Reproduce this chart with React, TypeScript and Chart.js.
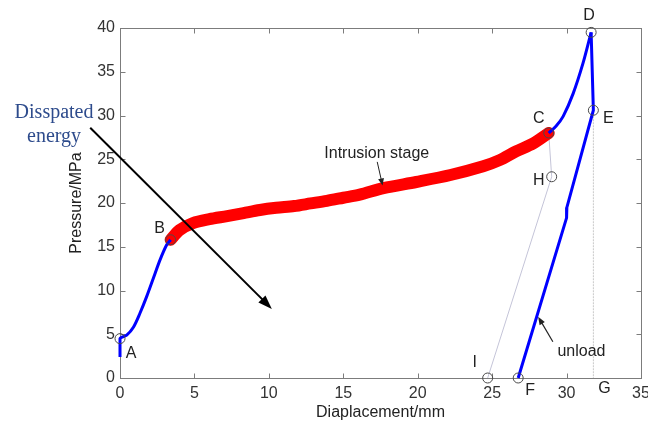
import React, { useEffect, useRef } from "react";
import { Chart, registerables } from "chart.js";

Chart.register(...registerables);

// ---- data ----
const xTicks = [0, 5, 10, 15, 20, 25, 30, 35];
const yTicks = [0, 5, 10, 15, 20, 25, 30, 35, 40];

const xTitle = "Diaplacement/mm";
const yTitle = "Pressure/MPa";

// loading A -> B
const loadX = [0, 0, 0.45, 0.9, 1.34, 1.79, 2.24, 2.69, 3.13, 3.4];
const loadY = [2.4, 4.5, 4.9, 5.8, 7.4, 9.3, 11.4, 13.5, 15.2, 15.8];

// intrusion stage B -> C
const intrusionX = [3.4, 4.0, 4.9, 6.0, 7.2, 8.3, 9.4, 10.5, 11.7, 12.8, 13.9, 15.0, 16.1, 17.7, 19.9, 22.2, 24.4, 25.5, 26.6, 27.75, 28.8];
const intrusionY = [15.8, 16.9, 17.7, 18.15, 18.5, 18.85, 19.2, 19.45, 19.65, 19.95, 20.25, 20.6, 20.95, 21.7, 22.4, 23.2, 24.2, 24.9, 25.9, 26.8, 28.0];

// compression C -> D
const compressX = [28.8, 29.3, 29.77, 30.44, 31.1, 31.65];
const compressY = [28.0, 28.8, 29.9, 32.5, 35.95, 39.5];

// unloading D -> E -> F
const unloadX = [31.65, 31.8, 30.02, 30.0, 26.75];
const unloadY = [39.5, 30.6, 19.5, 18.3, 0];

// thin reference lines
const refCHIX = [28.8, 29.0, 24.7];
const refCHIY = [28.0, 23.0, 0];
const refEGX = [31.8, 31.8];
const refEGY = [30.6, 0];

// marked points
const markerX = [0, 3.4, 28.8, 31.65, 31.8, 29.0, 24.7, 26.75];
const markerY = [4.5, 15.8, 28.0, 39.5, 30.6, 23.0, 0, 0];

// point letters
const letterNames = ["A", "B", "C", "D", "E", "H", "I", "F", "G"];
const letterX = [0, 3.4, 28.8, 31.65, 31.8, 29.0, 24.7, 26.75, 31.8];
const letterY = [4.5, 15.8, 28.0, 39.5, 30.6, 23.0, 0, 0, 0];

const intrusionLabel = "Intrusion stage";
const unloadLabel = "unload";
const energyLines = ["Disspated", "energy"];

const zip = (xs: number[], ys: number[]) => xs.map((x, i) => ({ x, y: ys[i] }));

// ---- styles ----
const SANS = '"Liberation Sans", Arial, sans-serif';
const SERIF = '"Liberation Serif", "Times New Roman", serif';
const letterOffsets: [number, number][] = [
  [11, 15], [-11, -11], [-10, -14], [-2, -17], [15, 8], [-13, 4], [-13, -15], [12, 13], [11, 11],
];

function arrow(ctx: CanvasRenderingContext2D, x1: number, y1: number, x2: number, y2: number,
  width: number, head: number, headW: number, color: string) {
  const ang = Math.atan2(y2 - y1, x2 - x1);
  const c = Math.cos(ang), s = Math.sin(ang);
  const bx = x2 - head * c, by = y2 - head * s;
  ctx.strokeStyle = color;
  ctx.fillStyle = color;
  ctx.lineWidth = width;
  ctx.beginPath();
  ctx.moveTo(x1, y1);
  ctx.lineTo(bx + 2 * c, by + 2 * s);
  ctx.stroke();
  ctx.beginPath();
  ctx.moveTo(x2, y2);
  ctx.lineTo(bx + headW * s, by - headW * c);
  ctx.lineTo(bx - headW * s, by + headW * c);
  ctx.closePath();
  ctx.fill();
}

const framePlugin = {
  id: "frameAndNotes",
  beforeDatasetsDraw(chart: any) {
    const { ctx, chartArea: a, scales } = chart;
    const xs = scales.x, ys = scales.y;
    ctx.save();
    ctx.strokeStyle = "#7c7c7c";
    ctx.lineWidth = 1;
    const L = Math.round(a.left) + 0.5, R = Math.round(a.right) + 0.5;
    const T = Math.round(a.top) + 0.5, B = Math.round(a.bottom) + 0.5;
    ctx.strokeRect(L, T, R - L, B - T);
    ctx.beginPath();
    for (const v of xTicks) {
      const px = Math.round(xs.getPixelForValue(v)) + 0.5;
      ctx.moveTo(px, B); ctx.lineTo(px, B - 5);
      ctx.moveTo(px, T); ctx.lineTo(px, T + 5);
    }
    for (const v of yTicks) {
      const py = Math.round(ys.getPixelForValue(v)) + 0.5;
      ctx.moveTo(L, py); ctx.lineTo(L + 5, py);
      ctx.moveTo(R, py); ctx.lineTo(R - 5, py);
    }
    ctx.stroke();
    ctx.restore();
  },
  afterDatasetsDraw(chart: any) {
    const { ctx, chartArea: a, scales } = chart;
    const xs = scales.x, ys = scales.y;
    const px = (v: number) => xs.getPixelForValue(v);
    const py = (v: number) => ys.getPixelForValue(v);
    ctx.save();
    // point letters
    ctx.font = `16px ${SANS}`;
    ctx.fillStyle = "#222";
    ctx.textAlign = "center";
    ctx.textBaseline = "middle";
    letterNames.forEach((n, i) => {
      const [dx, dy] = letterOffsets[i];
      ctx.fillText(n, px(letterX[i]) + dx, py(letterY[i]) + dy);
    });
    // intrusion stage
    ctx.fillText(intrusionLabel, px(17.25), py(25.7));
    arrow(ctx, px(17.28), py(24.7), px(17.64), py(22.0), 1, 7, 3, "#222");
    // unload
    ctx.fillStyle = "#222";
    ctx.fillText(unloadLabel, px(31.0), py(2.97));
    arrow(ctx, px(29.08), py(4.15), px(28.09), py(7.0), 1.2, 8, 3, "#222");
    // dissipated energy
    ctx.font = `20px ${SERIF}`;
    ctx.fillStyle = "#2d4b8c";
    ctx.textBaseline = "alphabetic";
    ctx.fillText(energyLines[0], px(-4.43), 118);
    ctx.fillText(energyLines[1], px(-4.43), 142);
    arrow(ctx, px(-2.0), py(28.6), px(10.2), py(7.9), 2, 14, 5, "#000");
    // axis titles
    ctx.font = `16px ${SANS}`;
    ctx.fillStyle = "#222";
    ctx.textAlign = "center";
    ctx.textBaseline = "alphabetic";
    ctx.fillText(xTitle, (a.left + a.right) / 2, 417);
    ctx.translate(81, (a.top + a.bottom) / 2);
    ctx.rotate(-Math.PI / 2);
    ctx.fillText(yTitle, 0, 0);
    ctx.restore();
  },
};

export default function App() {
  const ref = useRef<HTMLCanvasElement>(null);
  useEffect(() => {
    const tickFont = { family: SANS, size: 16 };
    const chart = new Chart(ref.current as HTMLCanvasElement, {
      type: "scatter",
      data: {
        datasets: [
          {
            label: "points",
            data: zip(markerX, markerY),
            showLine: false,
            pointStyle: "circle",
            pointRadius: 5,
            pointBorderWidth: 1,
            pointBorderColor: "#4a4a4a",
            pointBackgroundColor: "rgba(0,0,0,0)",
            clip: false,
            order: 0,
          } as any,
          {
            label: "load",
            data: zip(loadX, loadY),
            showLine: true,
            borderColor: "#0000ff",
            borderWidth: 3,
            pointRadius: 0,
            tension: 0.3,
            clip: false,
            order: 1,
          } as any,
          {
            label: "compress",
            data: zip(compressX, compressY),
            showLine: true,
            borderColor: "#0000ff",
            borderWidth: 3,
            pointRadius: 0,
            tension: 0.3,
            clip: false,
            order: 1,
          } as any,
          {
            label: "unload",
            data: zip(unloadX, unloadY),
            showLine: true,
            borderColor: "#0000ff",
            borderWidth: 3,
            pointRadius: 0,
            tension: 0,
            clip: false,
            order: 1,
          } as any,
          {
            label: "intrusion",
            data: zip(intrusionX, intrusionY),
            showLine: true,
            borderColor: "#ff0000",
            borderWidth: 12,
            borderCapStyle: "round",
            borderJoinStyle: "round",
            pointRadius: 0,
            tension: 0.3,
            clip: false,
            order: 2,
          } as any,
          {
            label: "refCHI",
            data: zip(refCHIX, refCHIY),
            showLine: true,
            borderColor: "#c4c4d8",
            borderWidth: 1,
            pointRadius: 0,
            tension: 0,
            clip: false,
            order: 3,
          } as any,
          {
            label: "refEG",
            data: zip(refEGX, refEGY),
            showLine: true,
            borderColor: "#c8c8c8",
            borderWidth: 1,
            borderDash: [2, 1],
            pointRadius: 0,
            tension: 0,
            clip: false,
            order: 3,
          } as any,
        ],
      },
      options: {
        responsive: false,
        devicePixelRatio: 1,
        animation: false,
        events: [],
        layout: { padding: { top: 28, right: 7, bottom: 0, left: 0 } },
        plugins: { legend: { display: false }, tooltip: { enabled: false } },
        scales: {
          x: {
            type: "linear",
            min: 0,
            max: 35,
            afterBuildTicks: (s: any) => { s.ticks = xTicks.map((v) => ({ value: v })); },
            afterFit: (s: any) => { s.height = 48; s.paddingLeft = 0; s.paddingRight = 0; },
            ticks: { autoSkip: false, maxRotation: 0, padding: 6, color: "#333", font: tickFont },
            grid: { display: false, drawTicks: false },
            border: { display: false },
          },
          y: {
            type: "linear",
            min: 0,
            max: 40,
            afterBuildTicks: (s: any) => { s.ticks = yTicks.map((v) => ({ value: v })); },
            afterFit: (s: any) => { s.width = 120; s.paddingTop = 0; s.paddingBottom = 0; },
            ticks: { autoSkip: false, padding: 5, color: "#333", font: tickFont },
            grid: { display: false, drawTicks: false },
            border: { display: false },
          },
        },
      } as any,
      plugins: [framePlugin],
    });
    return () => chart.destroy();
  }, []);
  return (
    <div style={{ position: "absolute", left: 0, top: 0, width: 648, height: 426, background: "#fff" }}>
      <canvas ref={ref} width={648} height={426} style={{ display: "block", width: 648, height: 426 }} />
    </div>
  );
}
